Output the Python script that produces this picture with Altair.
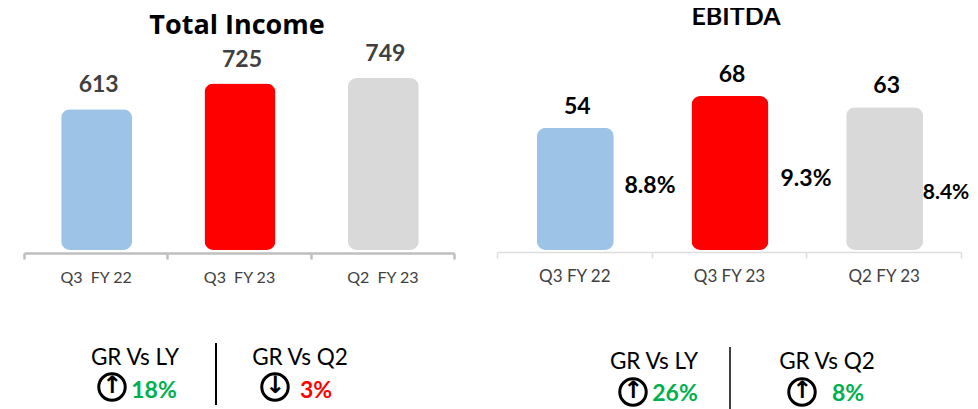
import altair as alt
import pandas as pd

periods = ["Q3 FY 22", "Q3 FY 23", "Q2 FY 23"]
income = [613, 725, 749]
ebitda = [54, 68, 63]
margin = ["8.8%", "9.3%", "8.4%"]
bar_colors = ["#9DC3E6", "#FF0000", "#D9D9D9"]
FONT = "Lato"
W, H = 962, 401


def P(v):
    return alt.value(v - 8)


def panel(values, x_range, y_top, bar_w, label_color, axis_y, axis_color, axis_w, label_expr, tick, label_size, dy):
    df = pd.DataFrame({"period": periods, "value": values})
    x = alt.X("period:N", sort=periods, title=None,
              scale=alt.Scale(domain=periods, range=[a - 8 for a in x_range], paddingInner=0, paddingOuter=0),
              axis=alt.Axis(orient="bottom", offset=axis_y - 8 - H, tickBand="extent", labelAngle=0,
                            domainColor=axis_color, domainWidth=axis_w, tickColor=axis_color, tickWidth=axis_w,
                            tickSize=tick, labelFont=FONT, labelFontSize=label_size, labelColor="#404040",
                            labelPadding=10, grid=False, labelExpr=label_expr))
    y = alt.Y("value:Q", axis=None,
              scale=alt.Scale(domain=[0, max(values)], range=[242, y_top - 8], nice=False, zero=True))
    color = alt.Color("period:N", scale=alt.Scale(domain=periods, range=bar_colors), legend=None)
    bars = alt.Chart(df).mark_bar(size=bar_w, cornerRadius=9, xOffset=1).encode(x=x, y=y, color=color)
    labels = alt.Chart(df).mark_text(font=FONT, fontSize=23, fontWeight="bold", color=label_color,
                                     baseline="alphabetic", dx=3, dy=dy).encode(x=x, y=y, text="value:N")
    return alt.layer(bars, labels)


def txt(t, px, py, size, color="black", bold=False, font=FONT):
    return alt.Chart(pd.DataFrame({"t": [t]})).mark_text(
        font=font, fontSize=size, color=color, fontWeight="bold" if bold else "normal",
        align="center", baseline="middle").encode(x=P(px), y=P(py), text="t:N")


def circle(px, py, glyph):
    ring = alt.Chart(pd.DataFrame({"t": [glyph]})).mark_point(
        filled=False, shape="circle", size=700, stroke="black", strokeWidth=3, opacity=1
    ).encode(x=P(px), y=P(py))
    return ring + txt(glyph, px, py - 1, 24, bold=True, font="DejaVu Sans")


def divider(px, y1, y2, w):
    return alt.Chart(pd.DataFrame({"a": [0]})).mark_rule(color="black", strokeWidth=w).encode(
        x=P(px), y=P(y1), y2=P(y2))


left = panel(income, [24, 454], 78, 71, "#404040", 253, "#BFBFBF", 2.5,
             "replace(datum.label, ' ', '\u00a0 ')", 6, 16, -17)
right = panel(ebitda, [497, 961], 96, 77, "black", 252, "#DDDDDD", 1.5, "datum.label", 6, 17, -14)

extras = [
    txt("Total Income", 237, 26, 27, bold=True, font="Open Sans"),
    txt("EBITDA", 736, 17, 25, bold=True),
    txt(margin[0], 650, 186, 23, bold=True),
    txt(margin[1], 806, 179, 23, bold=True),
    txt(margin[2], 946, 193, 21, bold=True),
    txt("GR Vs LY", 135, 358, 22.5),
    circle(112, 387, "↑"),
    txt("18%", 154, 391, 23, "#00B050", True),
    divider(216, 343, 405, 2),
    txt("GR Vs Q2", 300, 358, 22.5),
    circle(275, 387, "↓"),
    txt("3%", 316, 391, 23, "#FF0000", True),
    txt("GR Vs LY", 654, 362, 22.5),
    circle(633, 392, "↑"),
    txt("26%", 675, 394, 23, "#00B050", True),
    divider(730, 347, 409, 1.5),
    txt("GR Vs Q2", 827, 362, 22.5),
    circle(802, 392, "↑"),
    txt("8%", 848, 394, 23, "#00B050", True),
]

chart = alt.layer(left, right, *extras).resolve_scale(
    x="independent", y="independent", color="independent"
).properties(width=W, height=H, padding=0, autosize=alt.AutoSizeParams(type="none"), background="white"
).configure_view(stroke=None)

chart.save("out.html", embed_options={"renderer": "svg", "actions": False})
